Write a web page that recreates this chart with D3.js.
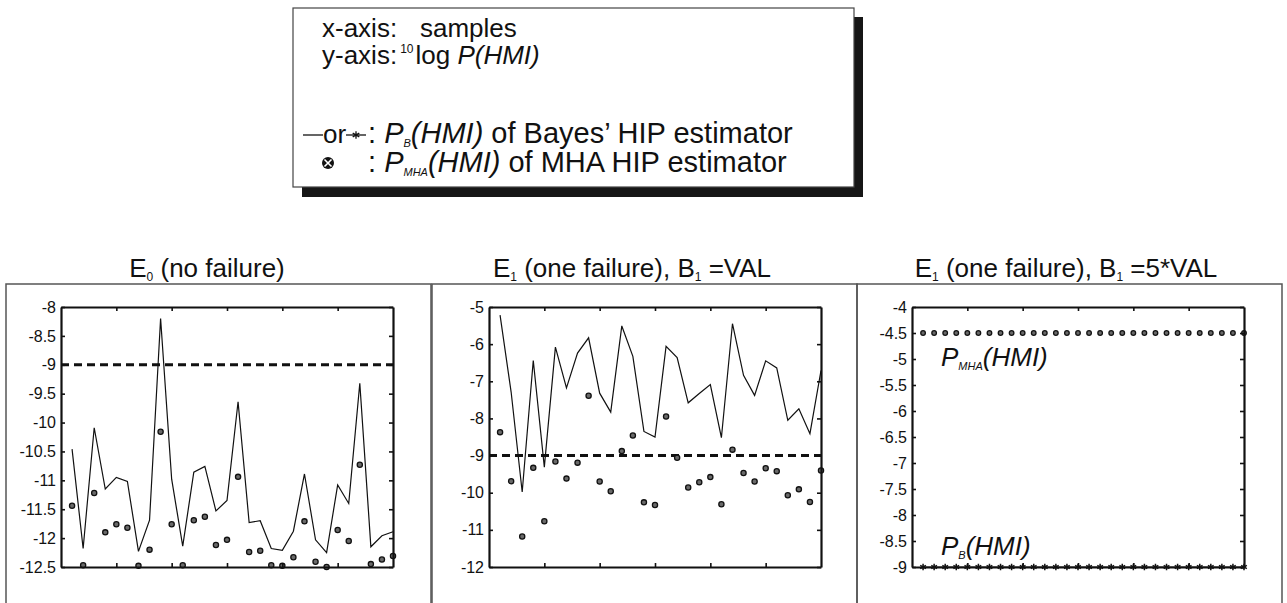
<!DOCTYPE html>
<html>
<head>
<meta charset="utf-8">
<script src="https://cdn.jsdelivr.net/npm/d3@7"></script>
<style>
  body { margin: 0; background: #fff; }
  svg { font-family: "Liberation Sans", Arial, Helvetica, sans-serif; }
</style>
</head>
<body>
<script>
// samples on the x axis (unlabelled ticks every 5)
var samples = [1, 2, 3, 4, 5, 6, 7, 8, 9, 10, 11, 12, 13, 14, 15,
               16, 17, 18, 19, 20, 21, 22, 23, 24, 25, 26, 27, 28, 29, 30];
var xTicks = [5, 10, 15, 20, 25];

// 10log P(HMI), E0 (no failure)
var e0Bayes = [-10.46, -12.18, -10.09, -11.15, -10.95, -11.02, -12.23, -11.69, -8.20, -10.98,
               -12.14, -10.86, -10.76, -11.53, -11.35, -9.64, -11.73, -11.70, -12.18, -12.21,
               -11.88, -10.89, -12.03, -12.25, -11.08, -11.40, -9.32, -12.15, -11.96, -11.89];
var e0Mha = [-11.44, -12.47, -11.22, -11.90, -11.76, -11.82, -12.48, -12.20, -10.16, -11.76,
             -12.47, -11.69, -11.63, -12.12, -12.03, -10.94, -12.24, -12.22, -12.47, -12.48,
             -12.33, -11.71, -12.41, -12.50, -11.86, -12.05, -10.73, -12.45, -12.37, -12.31];

// E1 (one failure), B1 = VAL
var e1Bayes = [-5.22, -7.29, -9.98, -6.44, -9.31, -6.08, -7.18, -6.24, -5.83, -7.32,
               -7.83, -5.51, -6.33, -8.35, -8.50, -6.06, -6.36, -7.58, -7.33, -7.09,
               -8.52, -5.45, -6.84, -7.38, -6.45, -6.64, -8.05, -7.74, -8.41, -6.71];
var e1Mha = [-8.37, -9.69, -11.18, -9.33, -10.77, -9.16, -9.62, -9.19, -7.39, -9.70,
             -9.96, -8.88, -8.46, -10.26, -10.33, -7.95, -9.06, -9.86, -9.72, -9.58,
             -10.31, -8.84, -9.47, -9.70, -9.34, -9.42, -10.07, -9.91, -10.25, -9.40];

// E1 (one failure), B1 = 5*VAL
var e5Bayes = [-9, -9, -9, -9, -9, -9, -9, -9, -9, -9, -9, -9, -9, -9, -9,
               -9, -9, -9, -9, -9, -9, -9, -9, -9, -9, -9, -9, -9, -9, -9];
var e5Mha = [-4.5, -4.5, -4.5, -4.5, -4.5, -4.5, -4.5, -4.5, -4.5, -4.5, -4.5, -4.5, -4.5, -4.5, -4.5,
             -4.5, -4.5, -4.5, -4.5, -4.5, -4.5, -4.5, -4.5, -4.5, -4.5, -4.5, -4.5, -4.5, -4.5, -4.5];

var threshold = -9;

var yTicks0 = [-12.5, -12, -11.5, -11, -10.5, -10, -9.5, -9, -8.5, -8];
var yTicks1 = [-12, -11, -10, -9, -8, -7, -6, -5];
var yTicks2 = [-9, -8.5, -8, -7.5, -7, -6.5, -6, -5.5, -5, -4.5, -4];

var W = 1287, H = 603;
var TOP = 307, PW = 332, PH = 260;

var svg = d3.select("body").append("svg")
    .attr("width", W)
    .attr("height", H);

// ---------- legend box ----------
var leg = svg.append("g").attr("fill", "#111");
leg.append("rect").attr("x", 302).attr("y", 17).attr("width", 561).attr("height", 180).attr("fill", "#161616");
leg.append("rect").attr("x", 293).attr("y", 8).attr("width", 561).attr("height", 179)
    .attr("fill", "#fff").attr("stroke", "#444").attr("stroke-width", 1.2);

var LF = 26, LF2 = 29;
leg.append("text").attr("x", 322).attr("y", 37).attr("font-size", LF).text("x-axis:");
leg.append("text").attr("x", 420).attr("y", 37).attr("font-size", LF).text("samples");

var l2 = leg.append("text").attr("x", 322).attr("y", 64).attr("font-size", LF);
l2.append("tspan").text("y-axis:");
l2.append("tspan").attr("font-size", 12).attr("dy", -11).attr("dx", 3).text("10");
l2.append("tspan").attr("dy", 11).attr("dx", 2).text("log ");
l2.append("tspan").attr("font-style", "italic").text("P(HMI)");

// line / star symbol for the Bayes estimator
leg.append("line").attr("x1", 303).attr("x2", 323).attr("y1", 135).attr("y2", 135).attr("stroke", "#111").attr("stroke-width", 1.3);
leg.append("text").attr("x", 323).attr("y", 143).attr("font-size", LF).text("or");
leg.append("line").attr("x1", 346).attr("x2", 366).attr("y1", 135).attr("y2", 135).attr("stroke", "#111").attr("stroke-width", 1.3);
leg.append("path").attr("transform", "translate(356,135)")
    .attr("d", d3.symbol(d3.symbolAsterisk || d3.symbolCross, 40)())
    .attr("fill", "none").attr("stroke", "#111").attr("stroke-width", 1.3);

function estimatorLine(y, sub, rest) {
    var t = leg.append("text").attr("x", 368).attr("y", y).attr("font-size", LF2);
    t.append("tspan").text(": ");
    t.append("tspan").attr("font-style", "italic").text("P");
    t.append("tspan").attr("font-style", "italic").attr("font-size", 11).attr("dy", 4).text(sub);
    t.append("tspan").attr("font-style", "italic").attr("dy", -4).text("(HMI)");
    t.append("tspan").text(rest);
}
estimatorLine(143, "B", " of Bayes\u2019 HIP estimator");
estimatorLine(172, "MHA", " of MHA HIP estimator");

// circled-times symbol for the MHA estimator
leg.append("circle").attr("cx", 328).attr("cy", 163).attr("r", 6).attr("fill", "#111");
leg.append("path").attr("d", "M324.5,159.5L331.5,166.5M331.5,159.5L324.5,166.5")
    .attr("stroke", "#fff").attr("stroke-width", 1.6);

// ---------- the three panels ----------
var panels = [
    {frame: 6, left: 61, titleX: 207, title: ["E", "0", " (no failure)"],
     yTicks: yTicks0, bayes: e0Bayes, mha: e0Mha, dashed: true, stars: false},
    {frame: 432, left: 489, titleX: 632, title: ["E", "1", " (one failure), B", "1", " =VAL"],
     yTicks: yTicks1, bayes: e1Bayes, mha: e1Mha, dashed: true, stars: false},
    {frame: 857, left: 912, titleX: 1066, title: ["E", "1", " (one failure), B", "1", " =5*VAL"],
     yTicks: yTicks2, bayes: e5Bayes, mha: e5Mha, dashed: false, stars: true}
];

panels.forEach(function (p) {
    // outer frame (open at the bottom edge of the picture)
    svg.append("path")
        .attr("d", "M" + p.frame + "," + (H + 5) + "V284H" + (p.frame + 425) + "V" + (H + 5))
        .attr("fill", "none").attr("stroke", "#555").attr("stroke-width", 1.5);

    // title: odd parts are subscripts
    var t = svg.append("text").attr("x", p.titleX).attr("y", 277)
        .attr("text-anchor", "middle").attr("font-size", 26).attr("fill", "#111");
    p.title.forEach(function (part, i) {
        var sub = i % 2 === 1;
        t.append("tspan")
            .attr("font-size", sub ? 12 : 26)
            .attr("dy", sub ? 4 : (i > 0 ? -4 : 0))
            .text(part);
    });

    var g = svg.append("g").attr("transform", "translate(" + p.left + "," + TOP + ")");
    var x = d3.scaleLinear().domain([0, 30]).range([0, PW]);
    var y = d3.scaleLinear().domain([p.yTicks[0], p.yTicks[p.yTicks.length - 1]]).range([PH, 0]);

    var data = samples.map(function (s, i) {
        return {x: s, b: p.bayes[i], m: p.mha[i]};
    });

    if (p.dashed) {
        g.append("line")
            .attr("x1", x(0)).attr("x2", x(30))
            .attr("y1", y(threshold)).attr("y2", y(threshold))
            .attr("stroke", "#111").attr("stroke-width", 3).attr("stroke-dasharray", "8,5");
    }

    var line = d3.line().x(function (d) { return x(d.x); }).y(function (d) { return y(d.b); });

    if (!p.stars) {
        g.append("path").datum(data).attr("d", line)
            .attr("fill", "none").attr("stroke", "#111").attr("stroke-width", 1.2);
    }

    g.selectAll(".mha").data(data).enter().append("circle")
        .attr("class", "mha")
        .attr("cx", function (d) { return x(d.x); })
        .attr("cy", function (d) { return y(d.m); })
        .attr("r", p.stars ? 2.3 : 2.6)
        .attr("fill", "#6a6a6a").attr("stroke", "#111").attr("stroke-width", 1.3);

    // axes: box with inward ticks
    var fmt = function (d) { return String(d); };
    var axes = [
        g.append("g").attr("transform", "translate(0," + PH + ")")
            .call(d3.axisBottom(x).tickValues(xTicks).tickSizeInner(-4).tickSizeOuter(0).tickFormat("")),
        g.append("g")
            .call(d3.axisTop(x).tickValues(xTicks).tickSizeInner(-4).tickSizeOuter(0).tickFormat("")),
        g.append("g")
            .call(d3.axisLeft(y).tickValues(p.yTicks).tickSizeInner(-4).tickSizeOuter(0).tickPadding(5).tickFormat(fmt)),
        g.append("g").attr("transform", "translate(" + PW + ",0)")
            .call(d3.axisRight(y).tickValues(p.yTicks).tickSizeInner(-4).tickSizeOuter(0).tickFormat(""))
    ];
    axes.forEach(function (a) {
        a.select(".domain").attr("stroke", "#111").attr("stroke-width", 2.2);
        a.selectAll(".tick line").attr("stroke", "#111").attr("stroke-width", 1.6);
        a.selectAll(".tick text").attr("fill", "#111")
            .attr("font-family", "'Liberation Sans', Arial, sans-serif").attr("font-size", 16);
    });

    if (p.stars) {
        g.append("path").datum(data).attr("d", line)
            .attr("fill", "none").attr("stroke", "#111").attr("stroke-width", 1.2);
        g.selectAll(".star").data(data).enter().append("path")
            .attr("class", "star")
            .attr("transform", function (d) { return "translate(" + x(d.x) + "," + y(d.b) + ")"; })
            .attr("d", d3.symbol(d3.symbolAsterisk || d3.symbolCross, 30)())
            .attr("fill", "none").attr("stroke", "#111").attr("stroke-width", 1.5);

        // curve labels
        var lab = [["MHA", 366], ["B", 555]];
        lab.forEach(function (l) {
            var tt = svg.append("text").attr("x", 941).attr("y", l[1])
                .attr("font-size", 26).attr("font-style", "italic").attr("fill", "#111");
            tt.append("tspan").text("P");
            tt.append("tspan").attr("font-size", 11).attr("dy", 4).text(l[0]);
            tt.append("tspan").attr("dy", -4).text("(HMI)");
        });
    }
});
</script>
</body>
</html>
